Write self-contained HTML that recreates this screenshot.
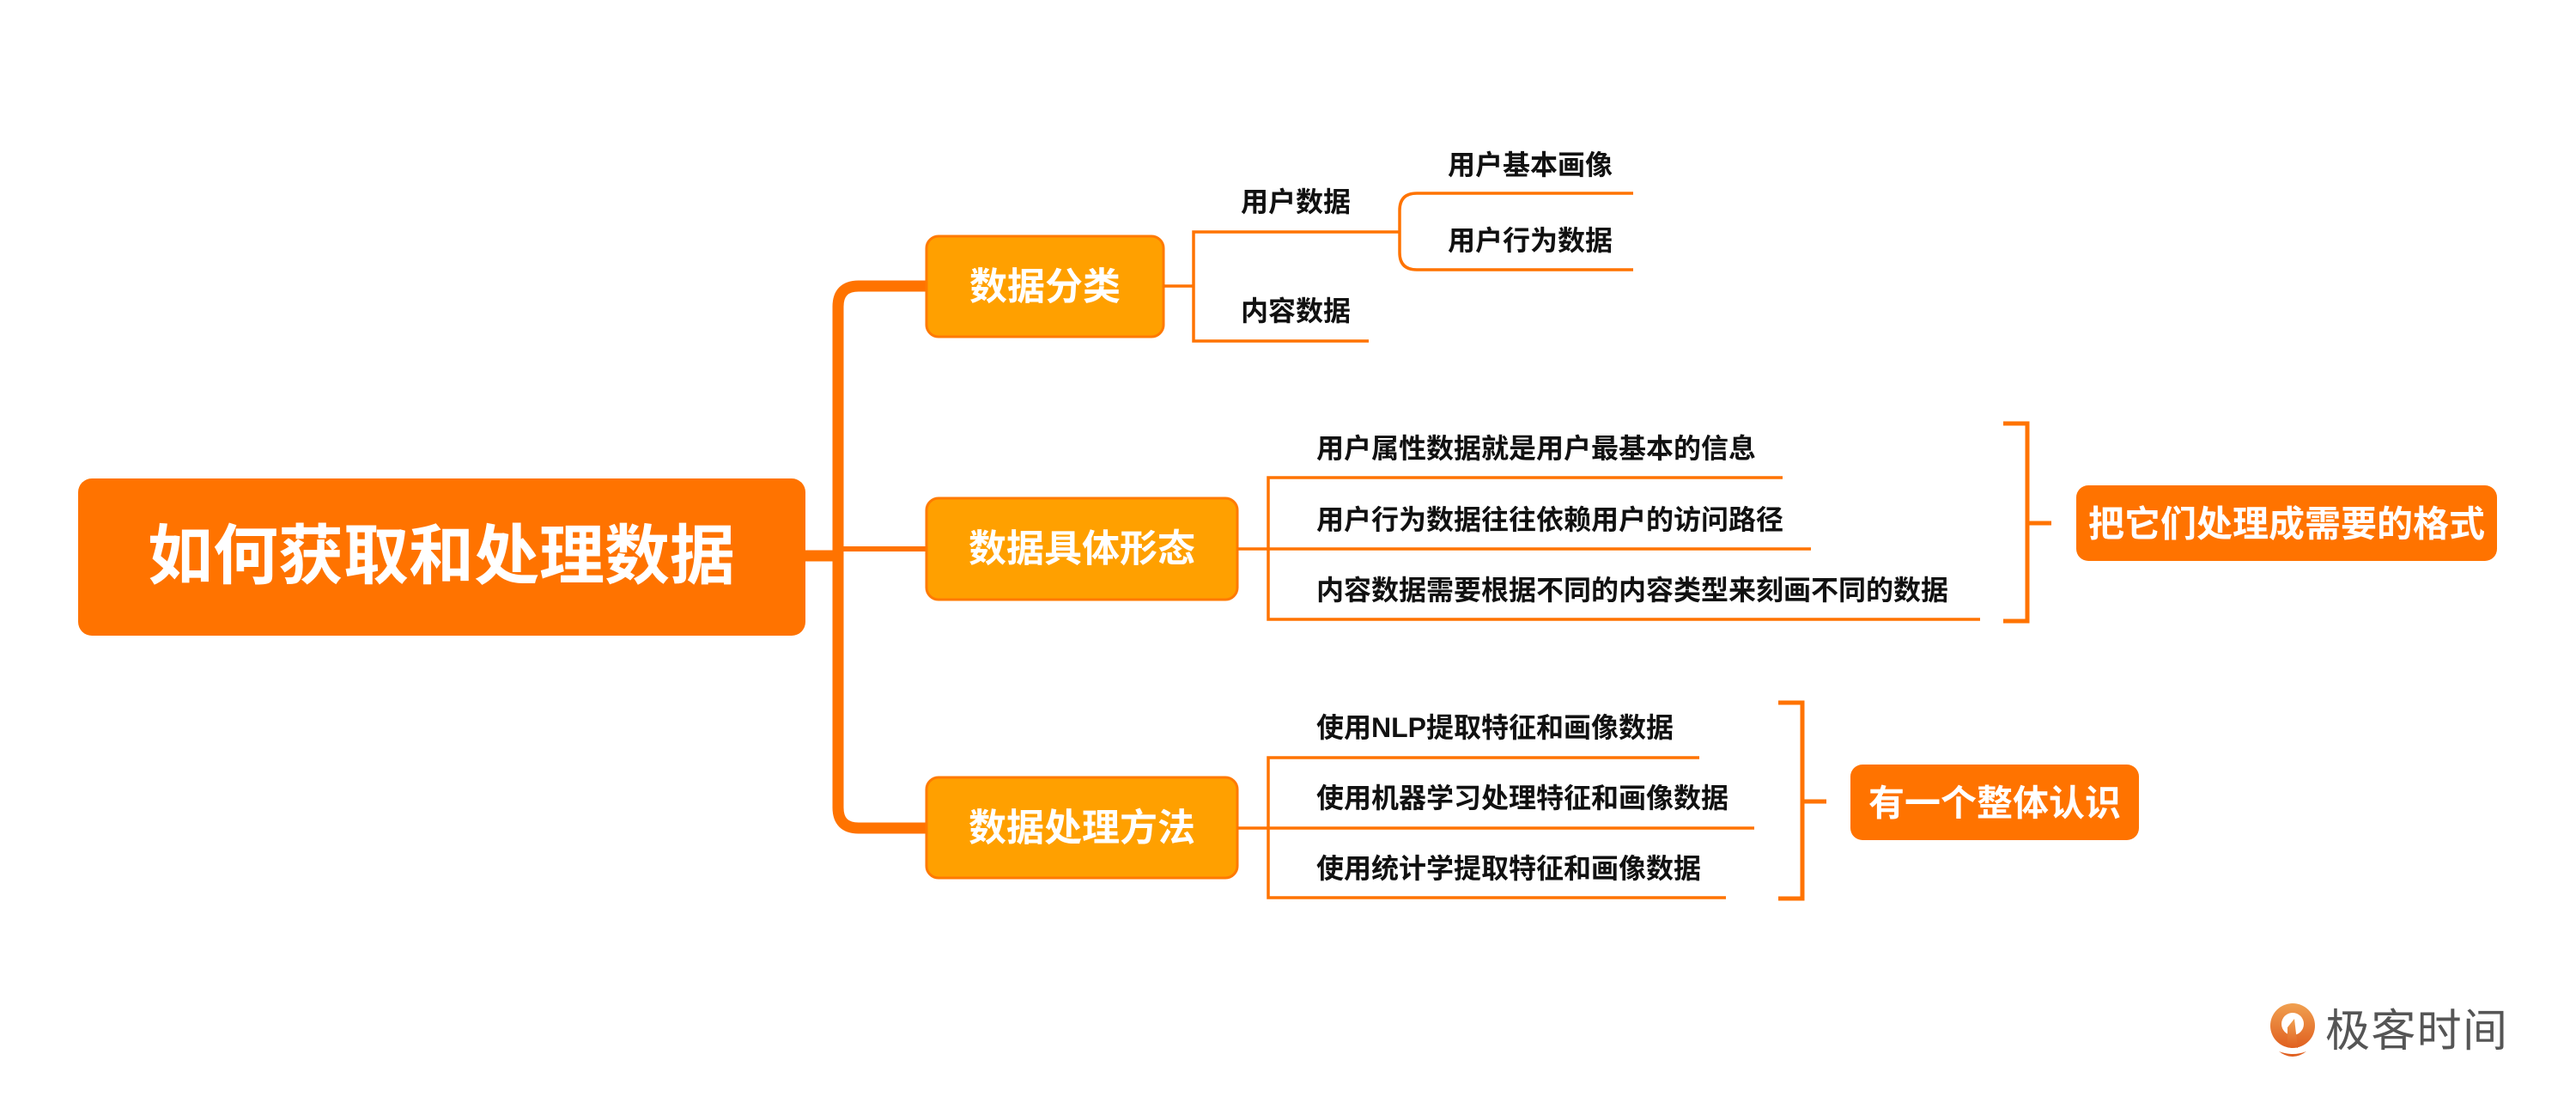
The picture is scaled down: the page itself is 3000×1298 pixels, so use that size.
<!DOCTYPE html>
<html><head><meta charset="utf-8"><style>
html,body{margin:0;padding:0;background:#fff}
svg{display:block}
text{font-family:"Liberation Sans","Noto Sans CJK SC",sans-serif;font-weight:bold}
</style></head><body>
<svg width="3000" height="1298" viewBox="0 0 3000 1298" xmlns="http://www.w3.org/2000/svg">
<!-- spine -->
<g fill="none" stroke="#FF7300" stroke-linecap="butt">
<path d="M938 647 H976" stroke-width="13"/>
<path d="M1079 333 H1000 Q976 333 976 357 V940 Q976 964 1000 964 H1079" stroke-width="13"/>
<path d="M976 639 H1079" stroke-width="6"/>
</g>
<!-- root -->
<rect x="91" y="557" width="847" height="183" rx="16" fill="#FF7300"/>
<text x="514" y="648" font-size="76" fill="#fff" text-anchor="middle" dominant-baseline="central">如何获取和处理数据</text>
<!-- level 1 nodes -->
<g stroke="#FF7A00" stroke-width="3" fill="#FFA000">
<rect x="1079" y="275" width="276" height="117" rx="14"/>
<rect x="1079" y="580" width="362" height="118" rx="14"/>
<rect x="1079" y="905" width="362" height="117" rx="14"/>
</g>
<g font-size="44" fill="#fff" text-anchor="middle" dominant-baseline="central">
<text x="1217" y="334">数据分类</text>
<text x="1260" y="639">数据具体形态</text>
<text x="1260" y="964">数据处理方法</text>
</g>
<!-- connectors level 2 -->
<g fill="none" stroke="#FF7300" stroke-width="3.5">
<path d="M1355 333 H1390"/>
<path d="M1630 270 H1390 V397 H1594"/>
<path d="M1902 225 H1650 Q1630 225 1630 245 V294 Q1630 314 1650 314 H1902"/>
<path d="M1441 639 H1477"/>
<path d="M2076 556 H1477 V721 H2306"/>
<path d="M1477 639 H2109"/>
<path d="M1441 964 H1477"/>
<path d="M1979 882 H1477 V1045 H2010"/>
<path d="M1477 964 H2043"/>
</g>
<!-- brackets -->
<g fill="none" stroke="#FF7300" stroke-width="5">
<path d="M2333 493 H2361 V723 H2333"/>
<path d="M2361 609 H2389"/>
<path d="M2071 818 H2099 V1046 H2071"/>
<path d="M2099 933 H2127"/>
</g>
<!-- summary boxes -->
<rect x="2418" y="565" width="490" height="88" rx="14" fill="#FF7300"/>
<text x="2663" y="610" font-size="42" fill="#fff" text-anchor="middle" dominant-baseline="central">把它们处理成需要的格式</text>
<rect x="2155" y="890" width="336" height="88" rx="14" fill="#FF7300"/>
<text x="2323" y="935" font-size="42" fill="#fff" text-anchor="middle" dominant-baseline="central">有一个整体认识</text>
<!-- leaf texts -->
<g font-size="32" fill="#111" dominant-baseline="central">
<text x="1445" y="235">用户数据</text>
<text x="1445" y="362">内容数据</text>
<text x="1686" y="192">用户基本画像</text>
<text x="1686" y="280">用户行为数据</text>
<text x="1533" y="522">用户属性数据就是用户最基本的信息</text>
<text x="1533" y="605">用户行为数据往往依赖用户的访问路径</text>
<text x="1533" y="687">内容数据需要根据不同的内容类型来刻画不同的数据</text>
<text x="1533" y="847">使用NLP提取特征和画像数据</text>
<text x="1533" y="929">使用机器学习处理特征和画像数据</text>
<text x="1533" y="1011">使用统计学提取特征和画像数据</text>
</g>
<!-- logo -->
<defs><linearGradient id="lg" x1="0" y1="0" x2="0" y2="1"><stop offset="0" stop-color="#F0A050"/><stop offset="1" stop-color="#E06020"/></linearGradient></defs>
<circle cx="2670" cy="1194" r="26" fill="url(#lg)"/>
<circle cx="2670" cy="1192" r="13" fill="#fff"/>
<path d="M2664 1196 L2672 1186 L2676 1220 L2664 1216 Z" fill="url(#lg)"/>
<path d="M2654 1224 Q2670 1236 2686 1224 Q2670 1230 2654 1224 Z" fill="#E06020"/>
<text x="2708" y="1201" font-size="52" fill="#555" style="font-weight:normal" dominant-baseline="central" textLength="212">极客时间</text>
</svg>
</body></html>
